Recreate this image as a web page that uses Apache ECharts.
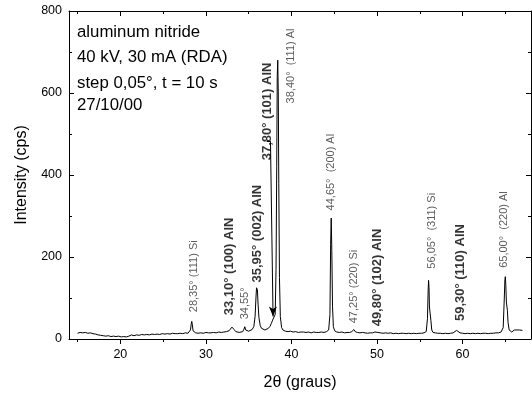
<!DOCTYPE html>
<html><head><meta charset="utf-8">
<script src="https://cdn.jsdelivr.net/npm/echarts@6/dist/echarts.min.js"></script>
<style>html,body{margin:0;padding:0;background:#fff}#c{width:532px;height:396px}</style>
</head><body><div id="c"></div>
<script>
const twoTheta = [15.0,15.3,15.6,15.9,16.2,16.5,16.8,17.1,17.4,17.7,18.0,18.3,18.6,18.9,19.2,19.5,19.8,20.1,20.4,20.7,21.0,21.3,21.6,21.9,22.2,22.5,22.8,23.1,23.4,23.7,24.0,24.3,24.6,24.9,25.2,25.5,25.8,26.1,26.4,26.7,27.0,27.3,27.6,27.9,28.1,28.2,28.28,28.35,28.42,28.5,28.6,28.8,29.1,29.4,29.7,30.0,30.3,30.6,30.9,31.2,31.5,31.8,32.1,32.4,32.7,32.9,33.05,33.15,33.3,33.5,33.7,33.9,34.1,34.3,34.45,34.55,34.65,34.8,35.0,35.2,35.4,35.6,35.75,35.85,35.92,35.97,36.02,36.1,36.2,36.35,36.5,36.7,36.9,37.1,37.3,37.5,37.65,37.8,37.95,38.1,38.2,38.28,38.34,38.4,38.46,38.52,38.6,38.7,38.85,39.0,39.3,39.6,39.9,40.2,40.5,40.8,41.1,41.4,41.7,42.0,42.3,42.6,42.9,43.2,43.5,43.8,44.1,44.35,44.5,44.58,44.65,44.72,44.8,44.9,45.05,45.3,45.6,45.9,46.2,46.5,46.8,47.05,47.2,47.3,47.45,47.7,48.0,48.3,48.6,48.9,49.2,49.5,49.75,49.9,50.1,50.4,50.7,51.0,51.3,51.6,51.9,52.2,52.5,52.8,53.1,53.4,53.7,54.0,54.3,54.6,54.9,55.2,55.5,55.75,55.9,55.98,56.03,56.08,56.13,56.18,56.23,56.3,56.4,56.55,56.8,57.1,57.4,57.7,58.0,58.3,58.6,58.9,59.1,59.3,59.5,59.7,60.0,60.3,60.6,60.9,61.2,61.5,61.8,62.1,62.4,62.7,63.0,63.3,63.6,63.9,64.2,64.5,64.75,64.88,64.95,65.0,65.06,65.12,65.18,65.24,65.32,65.45,65.6,65.75,65.9,66.05,66.2,66.35,66.5,66.65,66.8,67.0];
const intensity = [14,16,15,16,14,15,13,12,10,9,8,7,8,6,7,6,7,5,6,5,7,10,8,10,9,11,10,11,10,12,11,12,11,13,12,13,12,14,13,13,14,13,15,14,16,22,36,43,34,20,16,15,14,15,14,16,15,15,16,15,17,16,17,18,20,24,29,28,23,18,17,16,17,18,24,30,22,18,19,20,23,30,55,100,125,128,120,85,52,33,26,23,22,24,26,31,38,46,44,60,170,420,640,680,600,380,150,55,28,22,19,18,19,17,18,16,17,17,16,17,15,17,16,16,17,16,18,22,60,230,295,215,80,30,20,17,16,17,15,16,16,18,22,23,18,16,15,16,15,14,15,15,17,18,16,15,14,15,14,15,13,14,13,14,14,13,14,13,14,13,14,14,15,18,50,120,143,125,78,82,75,45,22,16,15,14,14,13,14,13,14,15,17,21,18,15,14,13,14,13,14,13,14,13,14,14,13,14,14,15,15,17,28,100,145,152,130,90,88,70,40,22,18,17,21,22,20,22,21,22,20,21];

const xMajorTicks = [20, 30, 40, 50, 60];
const xMinorTicks = [15, 25, 35, 45, 55, 65];

const alnLabels = ['33,10° (100) AlN', '35,95° (002) AlN', '37,80° (101) AlN', '49,80° (102) AlN', '59,30° (110) AlN'];
const alnLabelX = [32.77, 36.04, 37.25, 50.05, 59.75];
const alnLabelY = [177, 257, 555, 150, 162];

const phaseLabels = ['28,35° (111) Si', '34,55°', '38,40°  (111) Al', '44,65°  (200) Al', '47,25° (220) Si', '56,05°  (311) Si', '65,00°  (220) Al'];
const phaseLabelX = [28.56, 34.52, 39.9, 44.57, 47.36, 56.48, 64.88];
const phaseLabelY = [153, 87, 666, 407, 128, 264, 267];

const arrowPath = [[37.1, 482], [37.55, 482], [37.85, 55]];

const notes = ['aluminum nitride', '40 kV, 30 mA (RDA)', 'step 0,05°, t = 10 s', '27/10/00'];

const FF = "'Liberation Sans', Arial, Helvetica, sans-serif";
const chart = echarts.init(document.getElementById('c'), null, {renderer: 'canvas'});

const lineData = twoTheta.map((x, i) => [x, intensity[i]]);
const alnData = alnLabels.map((t, i) => ({value: [alnLabelX[i], alnLabelY[i]], name: t}));
const phaseData = phaseLabels.map((t, i) => ({value: [phaseLabelX[i], phaseLabelY[i]], name: t}));

const black = {color: '#000', width: 1};
function xAx(pos, vals, len, inside, showLine, extra) {
  return Object.assign({
    type: 'value', position: pos, min: 14, max: 68,
    axisLine: {show: showLine, onZero: false, lineStyle: black},
    axisTick: {show: true, inside: inside, length: len, customValues: vals, lineStyle: black},
    axisLabel: {show: false},
    splitLine: {show: false}
  }, extra || {});
}
function yAx(pos, showLabel, extra) {
  return Object.assign({
    type: 'value', position: pos, min: 0, max: 800, interval: 200,
    axisLine: {show: true, onZero: false, lineStyle: black},
    axisTick: {show: true, inside: true, length: 5, lineStyle: black},
    minorTick: {show: true, splitNumber: 2, length: 3, lineStyle: black},
    axisLabel: {show: showLabel, color: '#000', fontSize: 12.5, fontFamily: FF, margin: 7},
    splitLine: {show: false}
  }, extra || {});
}

chart.setOption({
  animation: false,
  backgroundColor: '#fff',
  grid: {left: 69, right: 1, top: 11, bottom: 54, containLabel: false},
  xAxis: [
    xAx('bottom', xMajorTicks, 5, false, true, {
      axisLabel: {show: true, customValues: xMajorTicks, color: '#000', fontSize: 12.5, fontFamily: FF, margin: 9},
      name: '2θ (graus)', nameLocation: 'middle', nameGap: 36,
      nameTextStyle: {color: '#000', fontSize: 16, fontFamily: FF}
    }),
    xAx('bottom', xMinorTicks, 3, false, false),
    xAx('top', xMajorTicks, 5, true, true),
    xAx('top', xMinorTicks, 3, true, false)
  ],
  yAxis: [
    yAx('left', true, {
      name: 'Intensity (cps)', nameLocation: 'middle', nameGap: 39, nameRotate: 90,
      nameTextStyle: {color: '#000', fontSize: 16, fontFamily: FF}
    }),
    yAx('right', false)
  ],
  series: [
    {
      type: 'line', xAxisIndex: 0, yAxisIndex: 0, data: lineData,
      showSymbol: false, symbol: 'none', lineStyle: {color: '#000', width: 1}, silent: true,
      markLine: {
        silent: true, animation: false,
        label: {show: false},
        lineStyle: {color: '#000', width: 1, type: 'solid'},
        data: [
          [{coord: arrowPath[0], symbol: 'none'}, {coord: arrowPath[1], symbol: 'none'}],
          [{coord: arrowPath[1], symbol: 'none'}, {coord: arrowPath[2], symbol: 'arrow', symbolSize: [6, 10]}]
        ]
      }
    },
    {
      type: 'scatter', xAxisIndex: 0, yAxisIndex: 0, data: alnData, symbolSize: 0, silent: true,
      label: {show: true, position: 'inside', rotate: 90, formatter: p => p.name,
        color: '#000', fontWeight: 'bold', fontSize: 13, fontFamily: FF}
    },
    {
      type: 'scatter', xAxisIndex: 0, yAxisIndex: 0, data: phaseData, symbolSize: 0, silent: true,
      label: {show: true, position: 'inside', rotate: 90, formatter: p => p.name,
        color: '#333', fontSize: 11, fontFamily: FF}
    }
  ],
  graphic: notes.map((t, i) => ({
    type: 'text', left: 77, top: [24, 49, 75, 97][i],
    style: {text: t, fill: '#000', font: '16.8px ' + FF}
  }))
});
</script></body></html>
